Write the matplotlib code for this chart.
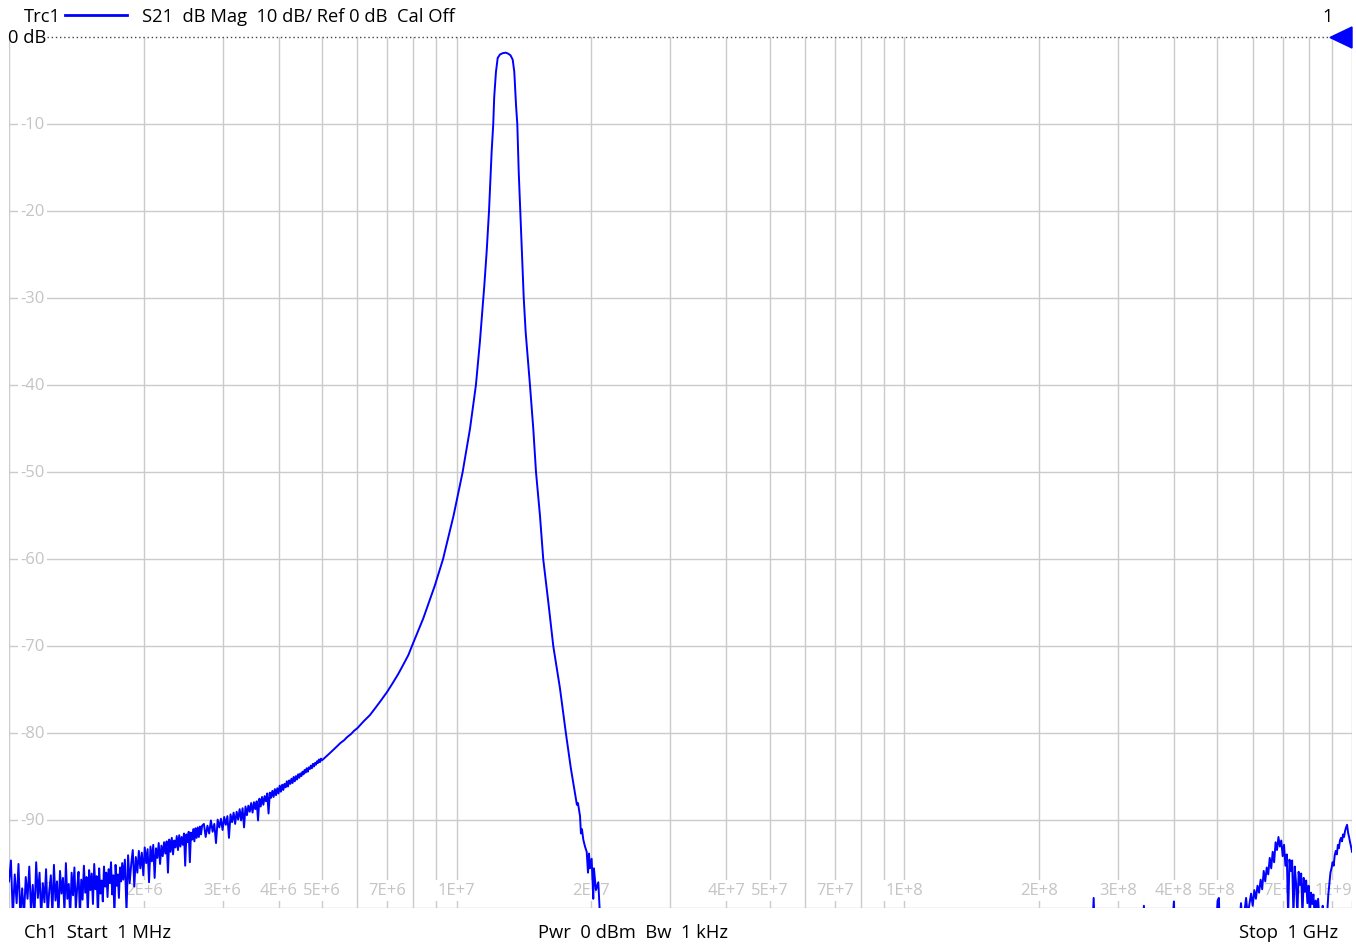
import numpy as np
import matplotlib
matplotlib.use('Agg')
from matplotlib import pyplot as plt
from matplotlib.lines import Line2D
from matplotlib.patches import Polygon
import matplotlib.transforms as mtransforms

plt.rcParams['font.family'] = ['Open Sans', 'DejaVu Sans']

# S21 trace, frequency in MHz, level in dB
floor_freq = [1.00, 1.01, 1.02, 1.03, 1.04, 1.05, 1.06, 1.07, 1.08, 1.09, 1.10, 1.11, 1.12, 1.13,
              1.14, 1.15, 1.16, 1.17, 1.18, 1.19, 1.20, 1.21, 1.22, 1.23, 1.24, 1.25, 1.26, 1.27,
              1.28, 1.29, 1.30, 1.31, 1.32, 1.33, 1.34, 1.35, 1.36, 1.37, 1.38, 1.39, 1.40, 1.41,
              1.42, 1.43, 1.44, 1.45, 1.46, 1.47, 1.48, 1.49, 1.50, 1.51, 1.52, 1.53, 1.54, 1.55,
              1.56, 1.57, 1.58, 1.59, 1.60, 1.61, 1.62, 1.63, 1.64, 1.65, 1.66, 1.67, 1.68, 1.69,
              1.70, 1.71, 1.72, 1.73, 1.74, 1.75, 1.76, 1.77, 1.78, 1.79, 1.80]
floor_db = [-97.0, -94.6, -101.0, -96.2, -99.5, -95.0, -101.0, -97.8, -101.0, -96.5, -99.0, -95.3,
            -100.6, -97.4, -101.0, -94.8, -98.9, -96.0, -101.0, -97.2, -99.4, -95.6, -101.0, -98.1,
            -96.3, -100.8, -95.1, -99.2, -97.0, -101.0, -95.8, -98.4, -96.6, -100.5, -94.9, -99.0,
            -97.3, -101.0, -96.0, -98.6, -95.4, -100.2, -97.7, -95.9, -101.0, -96.8, -99.1, -95.2,
            -98.3, -96.5, -100.6, -95.7, -98.0, -96.1, -99.6, -95.0, -97.9, -96.4, -101.0, -95.5,
            -98.4, -96.9, -99.3, -95.3, -97.6, -96.0, -98.8, -95.6, -97.2, -94.8, -98.5, -96.3,
            -101.0, -95.1, -97.5, -96.2, -98.9, -95.4, -97.0, -94.9, -96.8]

rise_freq = [1.815, 1.830, 1.845, 1.860, 1.875, 1.890, 1.905, 1.920, 1.935, 1.950, 1.965, 1.980,
             1.995, 2.010, 2.025, 2.040, 2.055, 2.070, 2.085, 2.100, 2.115, 2.130, 2.145, 2.160,
             2.175, 2.190, 2.205, 2.220, 2.235, 2.250, 2.265, 2.280, 2.295, 2.310, 2.325, 2.340,
             2.355, 2.370, 2.385, 2.400, 2.415, 2.430, 2.445, 2.460, 2.475, 2.490, 2.505, 2.520,
             2.535, 2.550, 2.565, 2.580, 2.595, 2.610, 2.625, 2.640, 2.655, 2.670, 2.685, 2.700]
rise_db = [-94.5, -100.5, -94.0, -97.2, -95.0, -93.4, -97.6, -94.2, -96.0, -93.5, -95.5, -93.7,
           -96.3, -93.1, -94.9, -93.3, -97.1, -93.0, -94.7, -92.8, -96.6, -93.2, -94.3, -92.6,
           -95.0, -92.9, -94.1, -92.5, -93.8, -92.4, -96.0, -92.2, -93.6, -92.0, -93.9, -92.3,
           -93.1, -91.8, -93.4, -91.7, -93.0, -91.9, -92.8, -91.5, -95.2, -91.6, -92.5, -91.3,
           -94.8, -91.4, -92.2, -91.0, -92.4, -90.9, -92.0, -90.8, -91.9, -90.7, -91.6, -90.6]

slope_freq = [2.725, 2.750, 2.775, 2.800, 2.825, 2.850, 2.875, 2.900, 2.925, 2.950, 2.975, 3.000,
              3.025, 3.050, 3.075, 3.100, 3.125, 3.150, 3.175, 3.200, 3.225, 3.250, 3.275, 3.300,
              3.325, 3.350, 3.375, 3.400, 3.425, 3.450, 3.475, 3.500, 3.525, 3.550, 3.575, 3.600,
              3.625, 3.650, 3.675, 3.700, 3.725, 3.750, 3.775, 3.800, 3.825, 3.850, 3.875, 3.900,
              3.925, 3.950, 3.975, 4.000, 4.025, 4.050, 4.075, 4.100, 4.125, 4.150, 4.175, 4.200,
              4.225, 4.250, 4.275, 4.300, 4.325, 4.350, 4.375, 4.400, 4.425, 4.450, 4.475, 4.500,
              4.525, 4.550, 4.575, 4.600, 4.625, 4.650, 4.675, 4.700, 4.725, 4.750, 4.775, 4.800,
              4.825, 4.850, 4.875, 4.900, 4.925, 4.950, 4.975, 5.000]
slope_db = [-90.4, -91.9, -90.6, -91.5, -90.0, -91.3, -90.4, -92.6, -89.9, -90.8, -89.8, -91.1,
            -89.6, -90.5, -89.5, -92.0, -89.3, -90.2, -89.1, -90.4, -89.0, -89.9, -88.7, -90.0,
            -88.6, -90.8, -88.4, -89.4, -88.3, -89.0, -88.0, -89.1, -87.9, -88.7, -87.8, -90.0,
            -87.5, -88.4, -87.3, -88.2, -87.2, -87.8, -86.9, -89.2, -86.8, -87.4, -86.6, -87.3,
            -86.4, -87.1, -86.3, -86.9, -86.0, -86.7, -85.9, -86.5, -85.8, -86.2, -85.5, -86.1,
            -85.4, -85.8, -85.2, -85.7, -85.0, -85.5, -84.9, -85.3, -84.7, -85.1, -84.6, -84.9,
            -84.4, -84.7, -84.2, -84.5, -84.0, -84.4, -83.9, -84.1, -83.7, -84.0, -83.5, -83.8,
            -83.4, -83.6, -83.2, -83.4, -83.0, -83.3, -82.9, -83.1]

skirt_freq = [5.1, 5.2, 5.3, 5.4, 5.5, 5.6, 5.7, 5.8, 5.9, 6.0, 6.2, 6.4, 6.6, 6.8, 7.0, 7.2, 7.4,
              7.6, 7.8]
skirt_db = [-82.7, -82.3, -81.9, -81.5, -81.1, -80.8, -80.4, -80.1, -79.7, -79.4, -78.6, -77.9,
            -77.0, -76.1, -75.2, -74.2, -73.2, -72.1, -71.0]

peak_freq = [7.94, 8.42, 8.94, 9.32, 9.84, 10.31, 10.71, 11.04, 11.27, 11.47, 11.53, 11.67, 11.81,
             11.87, 11.97, 12.07, 12.13, 12.24, 12.35, 12.50, 12.69, 12.87, 13.02, 13.19, 13.34,
             13.45, 13.57, 13.66, 13.76, 13.87, 13.99, 14.12, 14.26, 14.58, 14.83, 15.04, 15.35,
             15.61, 16.02, 16.44, 17.01, 17.54, 17.99, 18.56, 18.66, 18.86, 18.95, 19.05, 19.18,
             19.35, 19.52, 19.65, 19.75, 19.85, 20.02, 20.19, 20.26, 20.47, 20.72, 20.90, 21.12]
peak_db = [-70.0, -66.8, -63.0, -60.0, -55.0, -50.0, -45.0, -40.0, -35.0, -30.0, -28.5, -24.6, -20.0,
           -17.4, -13.2, -10.0, -6.9, -4.0, -2.4, -2.0, -1.85, -1.8, -1.9, -2.1, -2.6,
           -4.0, -7.8, -10.0, -15.5, -20.0, -24.6, -30.0, -33.9, -40.0, -45.0, -50.0, -55.0,
           -60.0, -64.9, -70.0, -74.8, -80.0, -84.0, -88.2, -88.0, -89.5, -91.5, -91.0, -92.2,
           -93.0, -93.6, -96.0, -93.8, -95.5, -94.4, -99.0, -95.5, -98.0, -97.1, -101.0, -100.5]

gap_freq = [25, 35, 50, 75, 110, 160, 220, 258, 263, 264.8, 266.5, 300, 340, 342.9, 345.5, 395,
            400.1, 402, 450, 495, 501, 504.3, 507, 540]
gap_db = [-104.5, -105.5, -104.8, -106.0, -105.2, -105.8, -104.6, -103.8, -102.5, -98.9, -103.2,
          -104.4, -103.5, -99.8, -104.0, -103.6, -99.3, -103.4, -104.2, -103.8, -99.2, -98.9,
          -103.1, -104.0]

hump_freq = [560, 565, 570, 575, 580, 585, 590, 595, 600, 605, 610, 615, 620, 625, 630, 635, 640,
             645, 650, 655, 660, 665, 670, 675, 680, 685, 690, 695, 700, 705, 710, 715, 720, 725,
             730, 735, 740, 745, 750, 755, 760, 765, 770, 775, 780, 785, 790, 795, 800, 805, 810,
             815, 820, 825, 830, 835, 840, 845, 850, 855, 860, 865, 870, 875, 880, 885, 890, 895,
             900, 905, 910, 915, 920, 925, 930, 935, 940, 945, 950, 955, 960, 965, 970, 975, 980,
             985, 990, 995, 1000]
hump_db = [-102.0, -99.5, -102.0, -100.5, -98.9, -101.0, -99.6, -98.4, -99.8, -98.0, -99.0, -97.5,
           -98.3, -96.8, -97.9, -95.8, -97.0, -95.4, -96.2, -94.3, -95.5, -93.6, -94.8, -92.5,
           -93.4, -91.9, -93.0, -92.3, -94.1, -92.8, -95.2, -93.9, -101.0, -94.5, -95.8, -94.6,
           -101.0, -95.3, -97.2, -101.0, -95.9, -97.4, -96.1, -101.0, -96.6, -98.2, -96.9, -99.5,
           -97.5, -101.0, -98.3, -99.6, -98.5, -101.0, -99.2, -100.4, -99.0, -101.0, -100.2,
           -101.5, -99.8, -101.0, -100.5, -101.5, -100.8, -98.6, -97.3, -96.0, -95.5, -94.8,
           -95.2, -94.0, -93.5, -93.9, -92.8, -93.2, -92.3, -92.0, -92.4, -91.6, -91.9, -91.2,
           -90.8, -90.5, -91.4, -91.9, -92.5, -93.0, -93.6]

db_levels = [-10, -20, -30, -40, -50, -60, -70, -80, -90, -100]
freq_labels = ['2E+6', '3E+6', '4E+6', '5E+6', '7E+6', '1E+7', '2E+7', '4E+7', '5E+7', '7E+7',
               '1E+8', '2E+8', '3E+8', '4E+8', '5E+8', '7E+8', '1E+9']
freq_label_hz = [2e6, 3e6, 4e6, 5e6, 7e6, 1e7, 2e7, 4e7, 5e7, 7e7,
                 1e8, 2e8, 3e8, 4e8, 5e8, 7e8, 1e9]

freq_hz = np.array(floor_freq + rise_freq + slope_freq + skirt_freq + peak_freq + gap_freq + hump_freq) * 1e6
s21 = np.array(floor_db + rise_db + slope_db + skirt_db + peak_db + gap_db + hump_db)

W, H = 1356, 945
fig = plt.figure(figsize=(W / 100, H / 100), dpi=100)
ax = fig.add_axes([9 / W, 1 - 908.5 / H, 1343 / W, 870.5 / H])
ax.set_xscale('log')
ax.set_xlim(1e6, 1e9)
ax.set_ylim(-100, 0)
for s in ax.spines.values():
    s.set_visible(False)
ax.set_xticks([])
ax.set_yticks([])
ax.minorticks_off()

grid_col = '#cbcbcb'
for dec in [1e6, 1e7, 1e8]:
    for m in range(1, 10):
        ax.axvline(m * dec, color=grid_col, lw=1, zorder=1)
ax.axvline(1e9, color=grid_col, lw=1, zorder=1)
for lv in db_levels:
    ax.axhline(lv, color=grid_col, lw=1, zorder=1)

label_col = '#c4c4c4'
box = dict(boxstyle='square,pad=0.15', fc='white', ec='none')
ytr = mtransforms.blended_transform_factory(ax.transAxes, ax.transData)
for lv in db_levels[:-1]:
    ax.text(11 / 1343, lv, str(lv), transform=ytr, ha='left', va='center', fontsize=12,
            color=label_col, bbox=box, zorder=2)
ax.text(11 / 1343, -97.9, '-100', transform=ytr, ha='left', va='center', fontsize=12,
        color=label_col, bbox=box, zorder=2)

xtr = mtransforms.blended_transform_factory(ax.transData, ax.transAxes)
for f, lab in zip(freq_label_hz, freq_labels):
    ha = 'right' if f >= 1e9 else 'center'
    ax.text(f, 0.02, lab, transform=xtr, ha=ha, va='center', fontsize=12,
            color=label_col, bbox=box, zorder=2)

ax.plot(freq_hz, s21, color='#0000ff', lw=1.4, zorder=3)

# reference line at 0 dB
ax.axhline(0, xmin=38 / 1343, xmax=1321 / 1343, color='#444444', lw=1,
           linestyle=(0, (1, 2)), clip_on=False, zorder=4)
fig.add_artist(Polygon([[1330 / W, 1 - 38.5 / H], [1352 / W, 1 - 28 / H], [1352 / W, 1 - 49 / H]],
                       closed=True, transform=fig.transFigure, color='#0000ff'))

fs = 13.2
fig.text(8 / W, 1 - 38 / H, '0 dB', fontsize=fs, ha='left', va='center', color='black')
fig.text(24 / W, 1 - 17 / H, 'Trc1', fontsize=fs, ha='left', va='center')
fig.add_artist(Line2D([65 / W, 127 / W], [1 - 16 / H, 1 - 16 / H], color='#0000ff', lw=2,
                      transform=fig.transFigure))
fig.text(142 / W, 1 - 17 / H, 'S21  dB Mag  10 dB/ Ref 0 dB  Cal Off', fontsize=fs,
         ha='left', va='center')
fig.text(1328 / W, 1 - 17 / H, '1', fontsize=fs, ha='center', va='center')

fig.text(24 / W, 1 - 933 / H, 'Ch1  Start  1 MHz', fontsize=fs, ha='left', va='center')
fig.text(633 / W, 1 - 933 / H, 'Pwr  0 dBm  Bw  1 kHz', fontsize=fs, ha='center', va='center')
fig.text(1338 / W, 1 - 933 / H, 'Stop  1 GHz', fontsize=fs, ha='right', va='center')

fig.savefig('out.png', dpi=100)
